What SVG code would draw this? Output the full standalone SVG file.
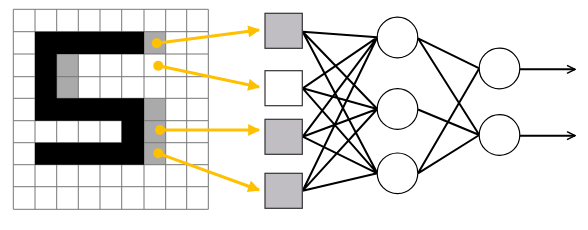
<svg xmlns="http://www.w3.org/2000/svg" width="588" height="230" viewBox="0 0 588 230">
<style>
.g{stroke:#777;stroke-width:1;fill:none}
.blk{fill:#000}
.gry{fill:#aaa}
.yl{stroke:#ffc000;stroke-width:3;fill:none}
.dot{fill:#ffc000}
.in{stroke:#333;stroke-width:1.2}
.c{fill:#fff;stroke:#000;stroke-width:1.2}
.w{stroke:#000;stroke-width:2;fill:none}
</style>
<defs>
<marker id="ya" viewBox="0 0 10 10" refX="9" refY="5" markerWidth="4.7" markerHeight="4" orient="auto" markerUnits="strokeWidth"><path d="M0,0 L10,5 L0,10 z" fill="#ffc000"/></marker>
<marker id="ka" viewBox="0 0 10 10" refX="9" refY="5" markerWidth="5" markerHeight="5" orient="auto" markerUnits="strokeWidth"><path d="M1,1 L9,5 L1,9" fill="none" stroke="#000" stroke-width="1.5"/></marker>
</defs>
<rect width="588" height="230" fill="#fff"/>
<g id="grid">
<rect x="13.3" y="9.3" width="195" height="200" fill="#fff"/>
<rect class="gry" x="144" y="31.7" width="21.7" height="22.3"/>
<rect class="gry" x="56.7" y="54" width="21.6" height="44.3"/>
<rect class="gry" x="144" y="98.3" width="21.7" height="66.4"/>
<path class="g" d="M13.3,9.3V209.3M35,9.3V209.3M56.7,9.3V209.3M78.3,9.3V209.3M100,9.3V209.3M121.7,9.3V209.3M144,9.3V209.3M165.7,9.3V209.3M186.7,9.3V209.3M208.3,9.3V209.3M13.3,9.3H208.3M13.3,31.7H208.3M13.3,54H208.3M13.3,76.7H208.3M13.3,98.3H208.3M13.3,120.7H208.3M13.3,142.7H208.3M13.3,164.7H208.3M13.3,186.7H208.3M13.3,209.3H208.3"/>
<path class="blk" d="M35,31.7H144V54H56.7V98.3H144V164.7H35V142.7H121.7V120.7H35Z"/>
</g>
<g id="pointers">
<circle class="dot" cx="156.7" cy="43.3" r="5"/>
<circle class="dot" cx="158.3" cy="65.7" r="5"/>
<circle class="dot" cx="160" cy="130" r="5"/>
<circle class="dot" cx="158.3" cy="153.3" r="5"/>
<path class="yl" marker-end="url(#ya)" d="M156.7,43.3L259,30"/>
<path class="yl" marker-end="url(#ya)" d="M158.3,65.7L259,87"/>
<path class="yl" marker-end="url(#ya)" d="M160,130L259,130"/>
<path class="yl" marker-end="url(#ya)" d="M158.3,153.3L259,190"/>
</g>
<g id="connectors">
<path class="w" d="M302.7,31.7L377.3,37.3M302.7,31.7L377.3,109M302.7,31.7L377.3,173.3M302.7,88.3L377.3,37.3M302.7,88.3L377.3,109M302.7,88.3L377.3,173.3M302.7,136.7L377.3,37.3M302.7,136.7L377.3,109M302.7,136.7L377.3,173.3M302.7,190.7L377.3,37.3M302.7,190.7L377.3,109M302.7,190.7L377.3,173.3M418,38.3L479.3,68.3M418,38.3L479.3,135M418,109.5L479.3,135M418,173.3L479.3,68.3M418,173.3L479.3,135"/>
<path class="w" marker-end="url(#ka)" d="M520,69.3H575"/>
<path class="w" marker-end="url(#ka)" d="M520,135.7H575"/>
</g>
<g id="in1"><rect class="in" x="265" y="13.3" width="37.3" height="35" fill="#c0bec2"/></g>
<g id="in2"><rect class="in" x="265" y="70.7" width="37.3" height="35" fill="#fff"/></g>
<g id="in3"><rect class="in" x="265" y="119.3" width="37.3" height="35" fill="#c0bec2"/></g>
<g id="in4"><rect class="in" x="265" y="173.3" width="37.3" height="35" fill="#c0bec2"/></g>
<g id="h1"><circle class="c" cx="397.5" cy="37.5" r="20.3"/></g>
<g id="h2"><circle class="c" cx="397.5" cy="109" r="20.3"/></g>
<g id="h3"><circle class="c" cx="397.5" cy="173.3" r="20.3"/></g>
<g id="o1"><circle class="c" cx="499.5" cy="68.5" r="20.3"/></g>
<g id="o2"><circle class="c" cx="499.5" cy="135" r="20.3"/></g>
</svg>
